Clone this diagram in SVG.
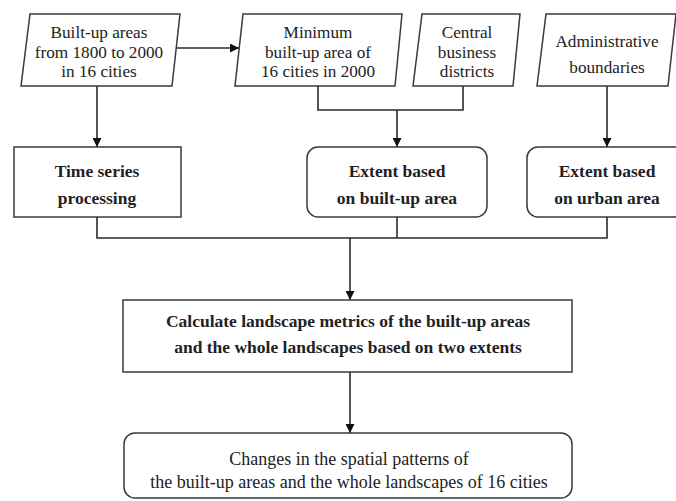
<svg xmlns="http://www.w3.org/2000/svg" width="676" height="501" viewBox="0 0 676 501">
<style>
.n{fill:#fff;stroke:#3a3a3a;stroke-width:1.5}
.t{font-family:"Liberation Serif","DejaVu Serif",serif;font-size:17.2px;fill:#222;text-anchor:middle}
.b{font-weight:bold;font-size:17.5px}
.l{font-size:18px}
.c{fill:none;stroke:#2a2a2a;stroke-width:1.6}
</style>
<defs>
<marker id="ah" viewBox="0 0 10 10" refX="10" refY="5" markerWidth="9" markerHeight="9" markerUnits="userSpaceOnUse" orient="auto">
<path d="M0,0 L10,5 L0,10 Z" fill="#111"/>
</marker>
</defs>
<rect width="676" height="501" fill="#fff"/>
<g id="connectors">
<line class="c" x1="97" y1="86" x2="97" y2="147" marker-end="url(#ah)"/>
<line class="c" x1="176" y1="48" x2="239" y2="48" marker-end="url(#ah)"/>
<polyline class="c" points="318,86 318,110 463,110 463,86"/>
<line class="c" x1="397" y1="110" x2="397" y2="147" marker-end="url(#ah)"/>
<line class="c" x1="607" y1="86" x2="607" y2="147" marker-end="url(#ah)"/>
<polyline class="c" points="97,217 97,238 607,238 607,217"/>
<line class="c" x1="397" y1="217" x2="397" y2="238"/>
<line class="c" x1="350" y1="238" x2="350" y2="300" marker-end="url(#ah)"/>
<line class="c" x1="350" y1="372" x2="350" y2="433" marker-end="url(#ah)"/>
</g>
<g id="builtup1800">
<polygon class="n" points="30,14 180,14 172,86 21,86"/>
<text class="t" x="99" y="38">Built-up areas</text>
<text class="t" x="99" y="58">from 1800 to 2000</text>
<text class="t" x="99" y="77">in 16 cities</text>
</g>
<g id="minimum">
<polygon class="n" points="243,14 402,14 395,86 235,86"/>
<text class="t" x="318" y="38">Minimum</text>
<text class="t" x="318" y="58">built-up area of</text>
<text class="t" x="318" y="77">16 cities in 2000</text>
</g>
<g id="cbd">
<polygon class="n" points="422,14 520,14 513,86 413,86"/>
<text class="t" x="467" y="38">Central</text>
<text class="t" x="467" y="58">business</text>
<text class="t" x="467" y="77">districts</text>
</g>
<g id="admin">
<polygon class="n" points="546,14 676,14 668,86 537,86"/>
<text class="t" x="607" y="47">Administrative</text>
<text class="t" x="607" y="73">boundaries</text>
</g>
<g id="timeseries">
<rect class="n" x="14" y="147" width="167" height="70"/>
<text class="t b" x="97" y="177">Time series</text>
<text class="t b" x="97" y="204">processing</text>
</g>
<g id="extentbuilt">
<rect class="n" x="307" y="147" width="180" height="70" rx="11"/>
<text class="t b" x="397" y="177">Extent based</text>
<text class="t b" x="397" y="204">on built-up area</text>
</g>
<g id="extenturban">
<rect class="n" x="527" y="147" width="162" height="70" rx="11"/>
<text class="t b" x="607" y="177">Extent based</text>
<text class="t b" x="607" y="204">on urban area</text>
</g>
<g id="calculate">
<rect class="n" x="123" y="300" width="449" height="72"/>
<text class="t b" x="348" y="327">Calculate landscape metrics of the built-up areas</text>
<text class="t b" x="348" y="353">and the whole landscapes based on two extents</text>
</g>
<g id="changes">
<rect class="n" x="124" y="433" width="448" height="65" rx="11"/>
<text class="t l" x="349" y="465">Changes in the spatial patterns of</text>
<text class="t l" x="349" y="488">the built-up areas and the whole landscapes of 16 cities</text>
</g>
</svg>
